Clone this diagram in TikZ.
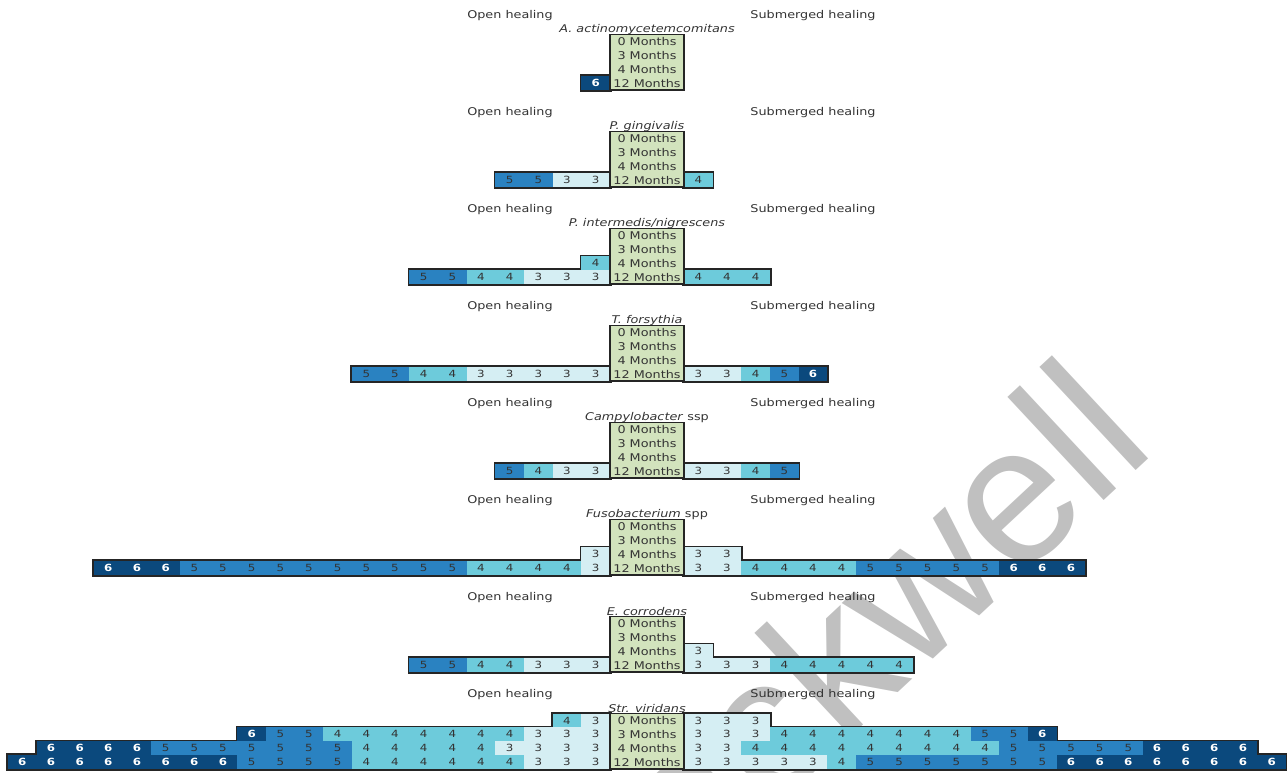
\documentclass[tikz,border=0pt]{standalone}
\usepackage{fontspec}
\newfontfamily\lab{DejaVu Sans}[FakeStretch=1.2]
\newfontfamily\wmfont{Liberation Sans}
\pgfdeclarelayer{wmlayer}
\pgfdeclarelayer{outline}
\pgfsetlayers{wmlayer,outline,main}
\definecolor{cthree}{HTML}{D5EEF3}
\definecolor{cfour}{HTML}{6DCBDB}
\definecolor{cfive}{HTML}{2A82C1}
\definecolor{csix}{HTML}{0B497D}
\definecolor{cbox}{HTML}{D2E3BD}
\definecolor{bord}{HTML}{252525}
\definecolor{txt}{HTML}{333333}
\definecolor{wmgray}{HTML}{C0C0C0}
\def\CW{28.667}
\def\RH{13.9}
\def\Ytop{34.5}
\tikzset{
  c3/.style={fill=cthree}, c4/.style={fill=cfour}, c5/.style={fill=cfive}, c6/.style={fill=csix},
  tdig/.style={font=\lab\fontsize{7.4pt}{8pt}\selectfont, text=txt, inner sep=0pt},
  t3/.style={tdig}, t4/.style={tdig}, t5/.style={tdig},
  t6/.style={font=\lab\bfseries\fontsize{7.4pt}{8pt}\selectfont, text=white, inner sep=0pt},
  outl/.style={draw=bord, line width=2.6pt},
  ctr/.style={draw=bord, fill=cbox, line width=1.4pt},
  lbl/.style={font=\lab\fontsize{8pt}{9pt}\selectfont, text=txt, inner sep=0pt},
  wm/.style={font=\wmfont\fontsize{146pt}{150pt}\selectfont, text=wmgray, inner sep=0pt, rotate=43, anchor=base east},
}
\newcommand\drawcell[6]{%
  \begin{pgfonlayer}{outline}
    \draw[outl] (#1,#3) rectangle (#2,#4);
  \end{pgfonlayer}
  \fill[c#5] (#1,#3) rectangle (#2,#4);
  \node[t#5] (#6) at ({(#1+#2)/2},{(#3+#4)/2}) {#5};
}
\newcommand\Lrow[3]{%
  \foreach \v [count=\k] in {#3} {
    \pgfmathsetmacro\xa{610-\k*\CW}
    \pgfmathsetmacro\xb{\xa+\CW}
    \pgfmathsetmacro\ya{\Ytop+97*#1+#2*\RH}
    \pgfmathsetmacro\yb{\ya+\RH}
    \drawcell{\xa}{\xb}{\ya}{\yb}{\v}{b#1r#2L\k}
  }
}
\newcommand\Rrow[3]{%
  \foreach \v [count=\k] in {#3} {
    \pgfmathsetmacro\xa{684+(\k-1)*\CW}
    \pgfmathsetmacro\xb{\xa+\CW}
    \pgfmathsetmacro\ya{\Ytop+97*#1+#2*\RH}
    \pgfmathsetmacro\yb{\ya+\RH}
    \drawcell{\xa}{\xb}{\ya}{\yb}{\v}{b#1r#2R\k}
  }
}
\newcommand\block[2]{%
  \pgfmathsetmacro\yo{97*#1}
  \node[lbl] (open#1) at (510,15.5+\yo) {Open healing};
  \node[lbl] (sub#1) at (813,15.5+\yo) {Submerged healing};
  \node[lbl] (sp#1) at (647,29.2+\yo) {#2};
  \draw[ctr] (610,\Ytop+\yo) rectangle (684,\Ytop+\yo+4*\RH);
  \foreach \m [count=\r from 0] in {0,3,4,12}
    \node[lbl] (m#1-\r) at (647,{\Ytop+\yo+(\r+0.5)*\RH}) {\m\ Months};
}
\begin{document}
\begin{tikzpicture}[x=0.75pt,y=-0.75pt]
\useasboundingbox (0,0) rectangle (1287,772);
\begin{pgfonlayer}{wmlayer}
  \begin{scope}
    \clip (0,0) rectangle (1287,772);
    \node[wm] (wmark) at (1158,450) {Blackwell};
  \end{scope}
\end{pgfonlayer}
% block 0
\Lrow{0}{3}{6}
\block{0}{\itshape A. actinomycetemcomitans}
% block 1
\Lrow{1}{3}{3,3,5,5}
\Rrow{1}{3}{4}
\block{1}{\itshape P. gingivalis}
% block 2
\Lrow{2}{2}{4}
\Lrow{2}{3}{3,3,3,4,4,5,5}
\Rrow{2}{3}{4,4,4}
\block{2}{\itshape P. intermedis/nigrescens}
% block 3
\Lrow{3}{3}{3,3,3,3,3,4,4,5,5}
\Rrow{3}{3}{3,3,4,5,6}
\block{3}{\itshape T. forsythia}
% block 4
\Lrow{4}{3}{3,3,4,5}
\Rrow{4}{3}{3,3,4,5}
\block{4}{\textit{Campylobacter} ssp}
% block 5
\Lrow{5}{2}{3}
\Lrow{5}{3}{3,4,4,4,4,5,5,5,5,5,5,5,5,5,5,6,6,6}
\Rrow{5}{2}{3,3}
\Rrow{5}{3}{3,3,4,4,4,4,5,5,5,5,5,6,6,6}
\block{5}{\textit{Fusobacterium} spp}
% block 6
\Lrow{6}{3}{3,3,3,4,4,5,5}
\Rrow{6}{2}{3}
\Rrow{6}{3}{3,3,3,4,4,4,4,4}
\block{6}{\itshape E. corrodens}
% block 7
\Lrow{7}{0}{3,4}
\Rrow{7}{0}{3,3,3}
\Lrow{7}{1}{3,3,3,4,4,4,4,4,4,4,5,5,6}
\Rrow{7}{1}{3,3,3,4,4,4,4,4,4,4,5,5,6}
\Lrow{7}{2}{3,3,3,3,4,4,4,4,4,5,5,5,5,5,5,5,6,6,6,6}
\Rrow{7}{2}{3,3,4,4,4,4,4,4,4,4,4,5,5,5,5,5,6,6,6,6}
\Lrow{7}{3}{3,3,3,4,4,4,4,4,4,5,5,5,5,6,6,6,6,6,6,6,6}
\Rrow{7}{3}{3,3,3,3,3,4,5,5,5,5,5,5,5,6,6,6,6,6,6,6,6}
\block{7}{\itshape Str. viridans}
\end{tikzpicture}
\end{document}
